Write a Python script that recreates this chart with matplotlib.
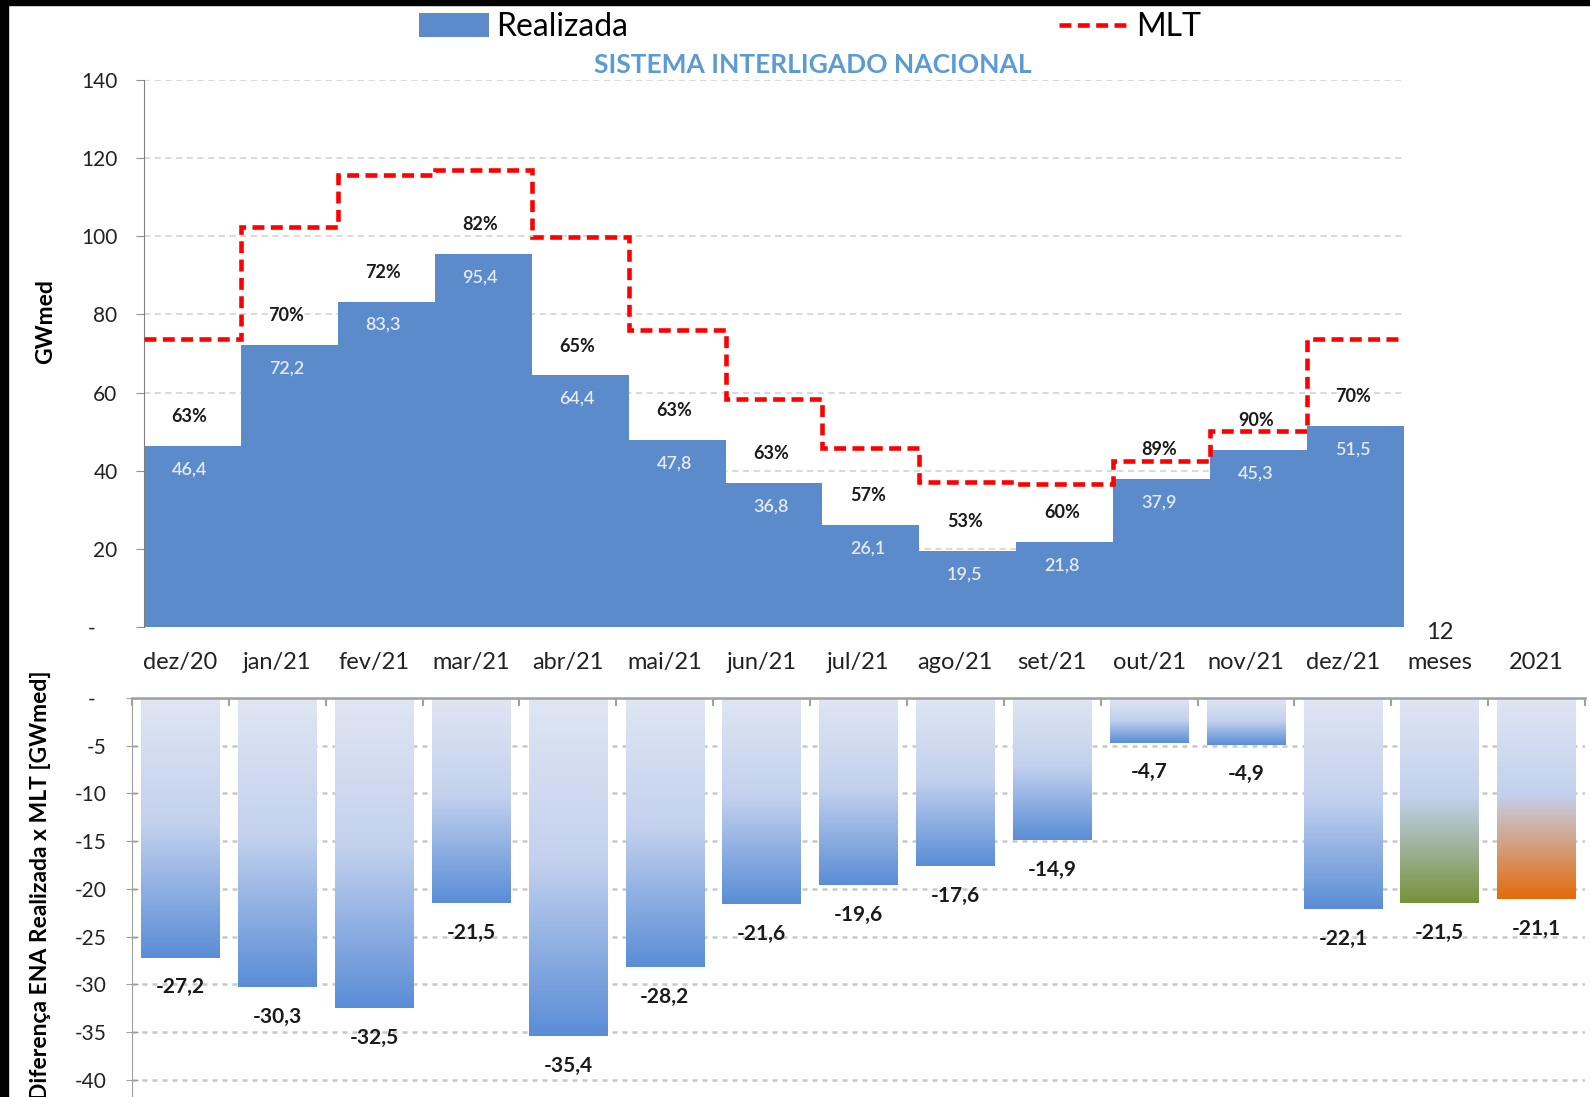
import numpy as np
import matplotlib
matplotlib.use('Agg')
import matplotlib.pyplot as plt
from matplotlib.colors import LinearSegmentedColormap
from matplotlib.patches import Patch, Rectangle
from matplotlib.lines import Line2D

plt.rcParams['font.family'] = ['Lato', 'DejaVu Sans']

# dados (GWmed)
meses = ['dez/20', 'jan/21', 'fev/21', 'mar/21', 'abr/21', 'mai/21', 'jun/21',
         'jul/21', 'ago/21', 'set/21', 'out/21', 'nov/21', 'dez/21']
realizada = [46.4, 72.2, 83.3, 95.4, 64.4, 47.8, 36.8, 26.1, 19.5, 21.8, 37.9, 45.3, 51.5]
mlt = [73.6, 102.5, 115.8, 116.9, 99.8, 76.0, 58.4, 45.7, 37.1, 36.7, 42.6, 50.2, 73.6]
pct_mlt = [63, 70, 72, 82, 65, 63, 63, 57, 53, 60, 89, 90, 70]

cats_dif = meses + ['12\nmeses', '2021']
diferenca = [-27.2, -30.3, -32.5, -21.5, -35.4, -28.2, -21.6, -19.6, -17.6, -14.9,
             -4.7, -4.9, -22.1, -21.5, -21.1]
cores_dif = ['#5a8dd6'] * 13 + ['#76923c', '#e36c0a']

azul = '#5b8bca'
mlt_style = (0, (2.6, 1.4))


def br(v):
    return f'{v:.1f}'.replace('.', ',')


W, H = 1590, 1097
fig = plt.figure(figsize=(W / 100, H / 100), dpi=100)


def box(l, t, r, b):
    return [l / W, 1 - b / H, (r - l) / W, (b - t) / H]


# ---- painel superior
ax = fig.add_axes(box(144, 80, 1404, 627))
x = np.arange(len(meses))
ax.bar(x, realizada, width=1.0, align='edge', color=azul, zorder=2)
ax.stairs(mlt, np.arange(len(meses) + 1), baseline=None, color='red', lw=3.3,
          linestyle=mlt_style, zorder=3)
for i, (v, p) in enumerate(zip(realizada, pct_mlt)):
    ax.text(i + 0.47, v - 6, br(v), ha='center', va='center', color='#e4ebf6',
            fontsize=13, fontweight='semibold', zorder=4)
    ax.text(i + 0.47, v + 7.5, f'{p}%', ha='center', va='center', color='#1a1a1a',
            fontsize=13, fontweight='bold', zorder=4)
ax.set_xlim(0, 13)
ax.set_ylim(0, 140)
ax.set_xticks([])
yt = np.arange(0, 141, 20)
ax.set_yticks(yt, ['-    '] + [str(t) for t in yt[1:]])
ax.tick_params(axis='y', length=6, color='#909090', labelsize=15, pad=13, labelcolor='#222222')
ax.yaxis.grid(True, color='#cfcfcf', linestyle=(0, (4, 3)), lw=1.1)
ax.set_axisbelow(True)
for s in ['top', 'right', 'bottom']:
    ax.spines[s].set_visible(False)
ax.spines['left'].set_color('#808080')

# ---- painel inferior
ax2 = fig.add_axes(box(132, 698, 1585, 1097))
xd = np.arange(len(cats_dif))
bars = ax2.bar(xd, diferenca, width=0.81, color='none', zorder=2)
grad = np.linspace(0, 1, 256).reshape(-1, 1)
for b, c in zip(bars, cores_dif):
    cmap = LinearSegmentedColormap.from_list('g', [(0, '#dfe6f3'), (0.48, '#c3d1ee'), (1, c)])
    x0, w = b.get_x(), b.get_width()
    im = ax2.imshow(grad, extent=(x0, x0 + w, b.get_height(), 0), origin='upper',
                    cmap=cmap, aspect='auto', zorder=2)
    im.set_clip_path(b)
for i, v in enumerate(diferenca):
    ax2.text(i, v - 3.1, br(v), ha='center', va='center', fontsize=15,
             fontweight='bold', color='#1a1a1a')
ax2.set_xlim(-0.5, 14.5)
ax2.set_ylim(-41.8, 0)
ax2.xaxis.tick_top()
ax2.set_xticks(xd, cats_dif, linespacing=1.55)
ax2.set_xticks(np.arange(-0.5, 15, 1), minor=True)
ax2.tick_params(axis='x', which='major', length=0, pad=18, labelsize=17, labelcolor='#222222')
ax2.tick_params(axis='x', which='minor', direction='in', length=6, color='#a0a0a0', width=1.5)
yt2 = np.arange(0, -41, -5)
ax2.set_yticks(yt2, ['-  '] + [str(t) for t in yt2[1:]])
ax2.tick_params(axis='y', direction='inout', length=9, color='#a0a0a0', labelsize=15, pad=14,
                labelcolor='#222222')
ax2.yaxis.grid(True, color='#c8c8c8', linestyle=(0, (2, 2)), lw=1.8)
ax2.set_axisbelow(True)
for s in ['right', 'bottom']:
    ax2.spines[s].set_visible(False)
ax2.spines['top'].set_color('#a0a0a0')
ax2.spines['top'].set_linewidth(1.8)
ax2.spines['left'].set_color('#a0a0a0')

# ---- textos
fig.text(813 / W, 1 - 65 / H, 'SISTEMA INTERLIGADO NACIONAL', color='#5b9bd5',
         fontweight='bold', fontsize=19, ha='center', va='center')
fig.text(46 / W, 1 - 322 / H, 'GWmed', rotation=90, ha='center', va='center',
         fontsize=16.5, fontweight='bold')
fig.text(41 / W, 1 - 885 / H, 'Diferença ENA Realizada x MLT [GWmed]', rotation=90,
         ha='center', va='center', fontsize=16.5, fontweight='bold')

handles = [Patch(facecolor=azul),
           Line2D([], [], color='red', lw=3.3, linestyle=mlt_style)]
fig.legend(handles, ['Realizada', 'MLT'], loc='center', bbox_to_anchor=(810 / W, 1 - 27 / H),
           ncol=2, frameon=False, fontsize=23, handlelength=2.2, handleheight=0.75,
           columnspacing=13.5, handletextpad=0.2)

# moldura preta do recorte
fig.add_artist(Rectangle((0, 0), 8 / W, 1, transform=fig.transFigure, color='black'))
fig.add_artist(Rectangle((0, 1 - 5 / H), 1, 5 / H, transform=fig.transFigure, color='black'))

fig.savefig('out.png', dpi=100)
